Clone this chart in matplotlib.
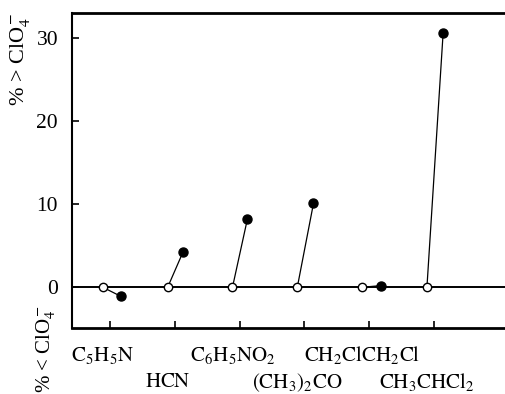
import numpy as np
import matplotlib
matplotlib.use("Agg")
import matplotlib.pyplot as plt

plt.rcParams['font.family'] = ['Liberation Serif', 'DejaVu Serif']
plt.rcParams['mathtext.fontset'] = 'stix'

# solvents, in order along the axis
solvents = ["$\\mathrm{C_5H_5N}$", "$\\mathrm{HCN}$", "$\\mathrm{C_6H_5NO_2}$",
            "$\\mathrm{(CH_3)_2CO}$", "$\\mathrm{CH_2ClCH_2Cl}$", "$\\mathrm{CH_3CHCl_2}$"]
# open circle (reference, ClO4-) and filled circle (% relative to ClO4-)
ref_vals = [0, 0, 0, 0, 0, 0]
pct_vals = [-1.1, 4.3, 8.2, 10.1, 0.2, 30.6]

pos = np.arange(1, len(solvents) + 1)
x_open = pos - 0.11
x_fill = pos + np.array([0.17, 0.13, 0.12, 0.14, 0.18, 0.14])

fig = plt.figure(figsize=(5.06, 3.94), dpi=100)
ax = fig.add_axes([72/506, 66/394, 1 - 72/506, 315/394])
ax.set_xlim(0.414, 7.11)
ax.set_ylim(-4.9, 33.0)

ax.axhline(0, color='black', lw=1.4, zorder=1)
for i in range(len(solvents)):
    ax.plot([x_open[i], x_fill[i]], [ref_vals[i], pct_vals[i]], color='black', lw=0.9, zorder=2)
ax.plot(x_open, ref_vals, 'o', ms=6, mfc='white', mec='black', mew=1.0, zorder=3)
ax.plot(x_fill, pct_vals, 'o', ms=6.5, mfc='black', mec='black', zorder=3)

ax.spines['right'].set_visible(False)
ax.spines['top'].set_linewidth(2)
ax.spines['bottom'].set_linewidth(2)
ax.spines['left'].set_linewidth(1.5)

ax.set_xticks(pos)
ax.set_xticklabels([])
ax.set_yticks([0, 10, 20, 30])
ax.tick_params(axis='both', direction='in', length=5, width=1.2, labelsize=15.5)
ax.tick_params(axis='y', pad=10)

for i, lab in enumerate(solvents):
    row = i % 2
    yy = -0.087 if row == 0 else -0.172
    ax.text(x_open[i], yy, lab, transform=ax.get_xaxis_transform(), ha='center', va='center', fontsize=15)

fig.text(20/506, 1 - 12/394, "% > ClO$_4^-$", rotation=90, ha='center', va='top', fontsize=16)
fig.text(46/506, 1/394, "% < ClO$_4^-$", rotation=90, ha='center', va='bottom', fontsize=15)

fig.savefig("out.png", dpi=100)
